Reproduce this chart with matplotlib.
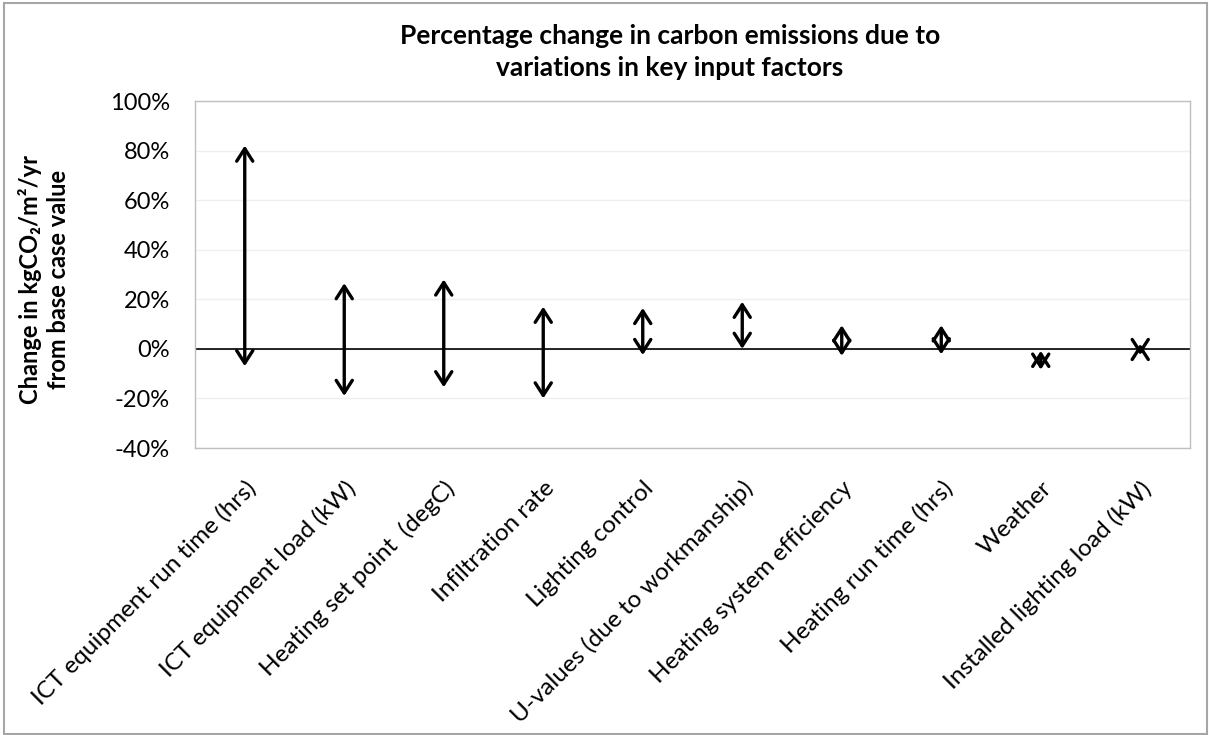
import matplotlib
matplotlib.use("Agg")
import matplotlib.pyplot as plt
from matplotlib.patches import Rectangle

plt.rcParams['font.family'] = ['Lato', 'DejaVu Sans']

categories = [
    "ICT equipment run time (hrs)",
    "ICT equipment load (kW)",
    "Heating set point  (degC)",
    "Infiltration rate",
    "Lighting control",
    "U-values (due to workmanship)",
    "Heating system efficiency",
    "Heating run time (hrs)",
    "Weather",
    "Installed lighting load (kW)",
]
high_pct = [82, 26.5, 28, 17, 16.5, 19, 9.5, 9.5, -0.8, 2]
low_pct = [-7, -19, -15.5, -20, -2.5, 0, -2.8, -2.2, -8.4, -2.5]
yticks = [-40, -20, 0, 20, 40, 60, 80, 100]

W, H = 1209, 735
fig = plt.figure(figsize=(W / 100, H / 100), dpi=100)
ax = fig.add_axes([195 / W, 1 - 448 / H, (1190 - 195) / W, (448 - 101) / H])

x = list(range(len(categories)))
ax.set_xlim(-0.5, len(categories) - 0.5)
ax.set_ylim(-40, 100)

for spine in ax.spines.values():
    spine.set_color('#BFBFBF')
    spine.set_linewidth(1.0)

ax.set_yticks(yticks)
ax.set_yticklabels([f"{v}%" for v in yticks], fontsize=17)
ax.yaxis.grid(True, color='#EFEFEF', linewidth=1.0)
ax.set_axisbelow(True)
ax.tick_params(axis='y', length=0, pad=18)
ax.axhline(0, color='black', linewidth=1.2, zorder=2)

ax.set_xticks(x)
ax.set_xticklabels(categories, rotation=45, ha='right', rotation_mode='anchor',
                   fontsize=17.5)
ax.tick_params(axis='x', length=0, pad=21)

for xi, hi, lo in zip(x, high_pct, low_pct):
    ax.annotate('', xy=(xi, hi), xytext=(xi, lo),
                arrowprops=dict(arrowstyle='<->,head_length=0.9,head_width=0.58',
                                color='black', lw=2.4, shrinkA=0, shrinkB=0,
                                mutation_scale=10),
                zorder=3)

ax.set_ylabel("Change in kgCO\u2082/m\u00b2/yr\nfrom base case value",
              fontsize=17, fontweight='bold', linespacing=1.25)
ax.yaxis.set_label_coords((70 - 195) / (1190 - 195), (448 - 279) / (448 - 101))

fig.text(670 / W, 1 - 52 / H,
         "Percentage change in carbon emissions due to\nvariations in key input factors",
         ha='center', va='center', fontsize=19, fontweight='bold', linespacing=1.42)

fig.patches.append(Rectangle((4 / W, 1 / H), (1207 - 4) / W, (733 - 2) / H,
                             transform=fig.transFigure, fill=False,
                             edgecolor='#A6A6A6', linewidth=1.5))

fig.savefig("out.png", dpi=100)
